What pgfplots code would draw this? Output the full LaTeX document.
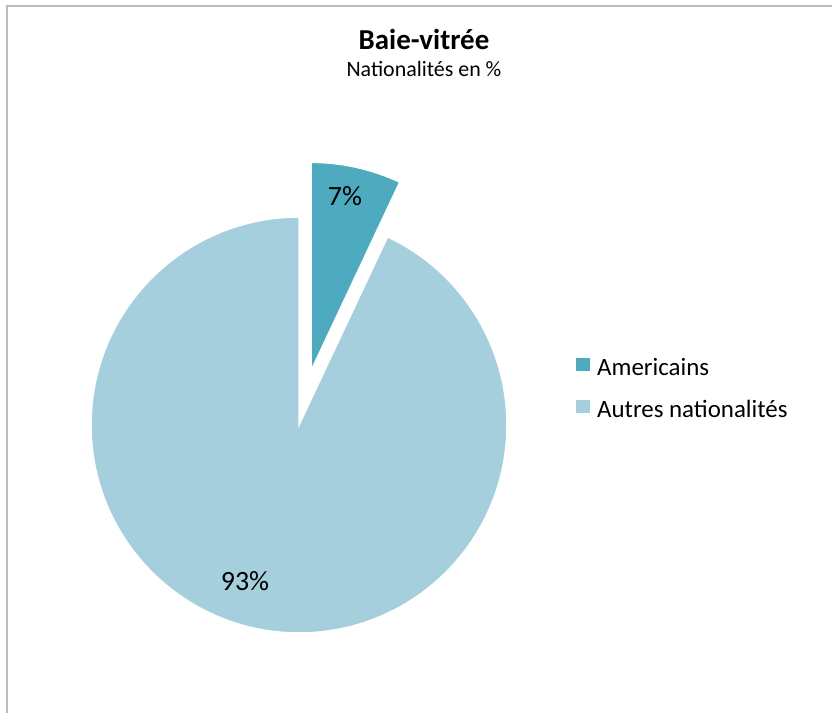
\documentclass[border=0pt]{standalone}
\usepackage{pgfplots}
\pgfplotsset{compat=1.18}
\usepackage{pgfplotstable}
\usepackage{fontspec}
\setmainfont{Carlito}
\definecolor{amer}{HTML}{4EAABF}
\definecolor{autres}{HTML}{A5CFDD}
\definecolor{frame}{HTML}{BBBBBB}
\pgfplotstableread{
label value
Americains 7
Autres 93
}\piedata
\begin{document}
\begin{tikzpicture}
\begin{axis}[
  name=ax,
  width=832bp, height=713bp, scale only axis,
  xmin=0, xmax=832, ymin=0, ymax=713,
  hide axis, clip=false,
]
\pgfplotstablegetelem{0}{value}\of\piedata
\pgfmathsetmacro{\va}{\pgfplotsretval}
\pgfmathsetmacro{\aend}{90-3.6*\va}
\pgfmathsetmacro{\amid}{90-1.8*\va}
% Autres (93%)
\fill[autres, draw=white, line width=1.5bp] (axis cs:299,288) -- ++(90:208bp)
  arc[start angle=90, end angle={\aend+360}, radius=208bp] -- cycle;
% Americains (7%), exploded
\fill[amer, draw=white, line width=1.5bp] (axis cs:{299+56*cos(\amid)},{288+56*sin(\amid)}) -- ++(90:208bp)
  arc[start angle=90, end angle=\aend, radius=208bp] -- cycle;
% labels
\node[anchor=base, font=\fontsize{28}{32}\selectfont, inner sep=0] at (axis cs:345,507) {7\%};
\node[anchor=base, font=\fontsize{28}{32}\selectfont, inner sep=0] at (axis cs:245,122) {93\%};
% legend
\fill[amer] (axis cs:576,355) rectangle (axis cs:590,342);
\node[anchor=base west, font=\fontsize{25}{30}\selectfont, inner sep=0] at (axis cs:597,337) {Americains};
\fill[autres] (axis cs:576,313) rectangle (axis cs:590,300);
\node[anchor=base west, font=\fontsize{25}{30}\selectfont, inner sep=0] at (axis cs:597,295) {Autres nationalités};
% titles
\node[anchor=base, font=\fontsize{29}{34}\selectfont\bfseries, inner sep=0] at (axis cs:424,663) {Baie-vitrée};
\node[anchor=base, font=\fontsize{22}{26}\selectfont, inner sep=0] at (axis cs:424,636) {Nationalités en \%};
% frame
\draw[frame, line width=2bp] (axis cs:6.5,0) -- (axis cs:6.5,706.5) -- (axis cs:832,706.5);
\end{axis}
\pgfresetboundingbox
\path[use as bounding box] (ax.south west) rectangle (ax.north east);
\end{tikzpicture}
\end{document}
